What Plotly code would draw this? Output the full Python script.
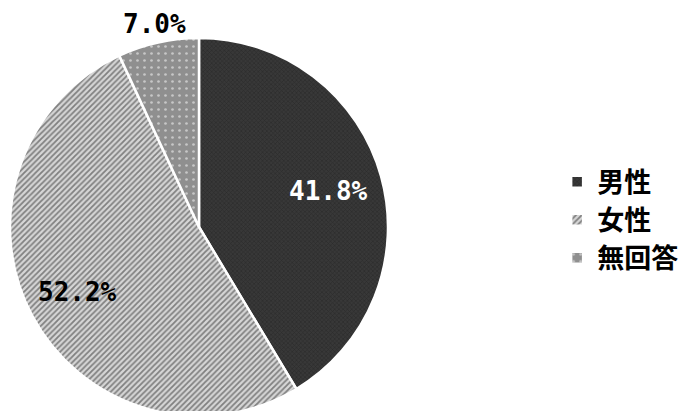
import math
import plotly.graph_objects as go

labels = ["男性", "女性", "無回答"]
values = [41.8, 52.2, 7.0]
text_labels = ["41.8%", "52.2%", "7.0%"]
label_radius = [0.71, 0.73, 1.10]   # label distance from centre, as fraction of radius
label_colors = ["white", "black", "black"]

W, H = 696, 411
OFF = 8                      # page body margin
CX, CY, R = 199 - OFF, 227 - OFF, 189  # pie centre / radius in figure pixels

fig = go.Figure(go.Pie(
    labels=labels,
    values=values,
    textinfo="none",
    sort=False,
    direction="clockwise",
    rotation=0,
    marker=dict(
        colors=["#383838", "#d6d6d6", "#8f8f8f"],
        line=dict(color="white", width=2.5),
        pattern=dict(
            fillmode="overlay",
            shape=["x", "/", "."],
            fgcolor=["#1a1a1a", "#2a2a2a", "#ffffff"],
            size=[3, 4, 7],
            solidity=[0.35, 0.45, 0.12],
        ),
    ),
    domain=dict(x=[(CX - R) / W, (CX + R) / W], y=[(H - CY - R) / H, (H - CY + R) / H]),
))

# data labels placed at the middle angle of each slice
total = sum(values)
cum = 0.0
for v, t, rf, c in zip(values, text_labels, label_radius, label_colors):
    mid = (cum + v / 2) / total * 2 * math.pi
    cum += v
    px = CX + rf * R * math.sin(mid)
    py = CY - rf * R * math.cos(mid)
    fig.add_annotation(
        x=px / W, y=1 - py / H, xref="paper", yref="paper",
        text=t, showarrow=False, xanchor="center", yanchor="middle",
        font=dict(family="DejaVu Sans Mono", size=26, color=c, weight="bold"),
    )

fig.update_layout(
    width=W, height=H,
    margin=dict(l=0, r=0, t=0, b=0),
    paper_bgcolor="white",
    showlegend=True,
    legend=dict(
        x=0.789, y=0.484, xanchor="left", yanchor="middle",
        font=dict(family="Noto Sans CJK JP", size=27, color="black", weight="bold"),
        itemwidth=30,
        tracegroupgap=0,
    ),
)

fig.write_html("out.html")
